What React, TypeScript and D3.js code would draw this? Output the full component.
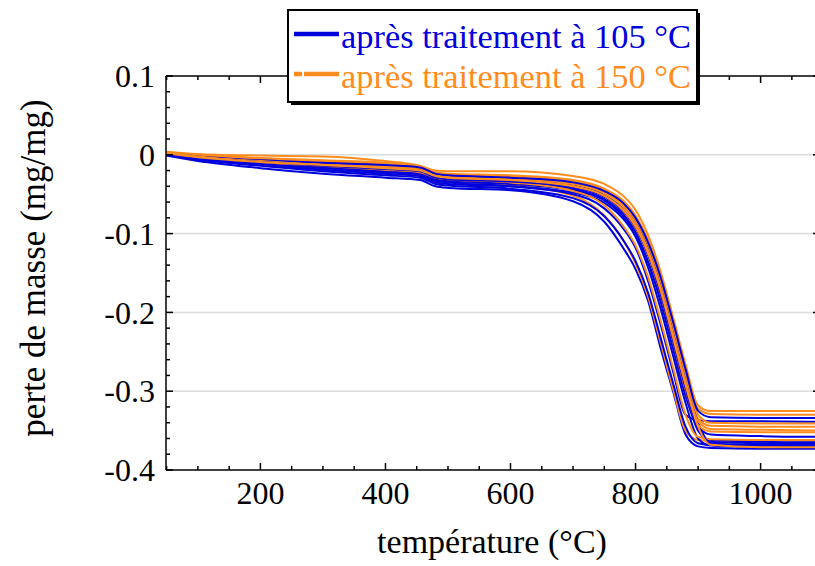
import React from "react";
import * as d3 from "d3";

const temps = [49, 100, 200, 300, 400, 455, 480, 500, 600, 700, 750, 780, 800, 820, 840, 860, 880, 900, 920, 1000, 1100];

const blue1 = [-0.001, -0.008, -0.017, -0.024, -0.029, -0.032, -0.040, -0.042, -0.045, -0.059, -0.085, -0.118, -0.145, -0.185, -0.245, -0.300, -0.355, -0.370, -0.372, -0.373, -0.373];
const blue2 = [0.000, -0.006, -0.014, -0.021, -0.026, -0.029, -0.037, -0.039, -0.043, -0.055, -0.078, -0.108, -0.135, -0.175, -0.232, -0.290, -0.345, -0.366, -0.368, -0.368, -0.368];
const blue3 = [0.001, -0.005, -0.012, -0.017, -0.022, -0.025, -0.033, -0.035, -0.040, -0.050, -0.068, -0.093, -0.118, -0.160, -0.215, -0.275, -0.330, -0.337, -0.338, -0.338, -0.339];
const blue4 = [0.002, -0.004, -0.010, -0.015, -0.019, -0.022, -0.030, -0.032, -0.035, -0.043, -0.056, -0.075, -0.097, -0.135, -0.183, -0.243, -0.303, -0.350, -0.362, -0.364, -0.365];
const blue5 = [0.002, -0.003, -0.008, -0.012, -0.016, -0.019, -0.027, -0.029, -0.031, -0.038, -0.050, -0.067, -0.087, -0.120, -0.167, -0.225, -0.287, -0.340, -0.366, -0.369, -0.370];
const blue6 = [0.001, -0.005, -0.011, -0.016, -0.021, -0.024, -0.032, -0.034, -0.037, -0.045, -0.058, -0.078, -0.100, -0.137, -0.186, -0.246, -0.306, -0.345, -0.355, -0.357, -0.358];
const blue7 = [0.002, -0.002, -0.007, -0.010, -0.013, -0.016, -0.024, -0.026, -0.029, -0.035, -0.046, -0.061, -0.080, -0.111, -0.155, -0.212, -0.272, -0.325, -0.333, -0.334, -0.334];
const blue8 = [0.000, -0.006, -0.013, -0.019, -0.024, -0.027, -0.035, -0.037, -0.040, -0.048, -0.061, -0.081, -0.104, -0.143, -0.195, -0.255, -0.315, -0.360, -0.369, -0.371, -0.372];
const blue9 = [0.001, -0.004, -0.009, -0.014, -0.018, -0.021, -0.029, -0.031, -0.034, -0.041, -0.053, -0.071, -0.092, -0.127, -0.176, -0.236, -0.296, -0.348, -0.364, -0.366, -0.367];

const orange1 = [0.003, -0.003, -0.010, -0.016, -0.021, -0.024, -0.031, -0.033, -0.038, -0.052, -0.077, -0.108, -0.138, -0.180, -0.238, -0.297, -0.350, -0.362, -0.363, -0.363, -0.363];
const orange2 = [0.004, 0.001, -0.001, -0.002, -0.008, -0.014, -0.020, -0.021, -0.021, -0.027, -0.037, -0.052, -0.070, -0.102, -0.148, -0.206, -0.266, -0.318, -0.325, -0.325, -0.325];
const orange3 = [0.003, 0.000, -0.004, -0.007, -0.010, -0.015, -0.022, -0.024, -0.026, -0.032, -0.043, -0.058, -0.077, -0.108, -0.153, -0.210, -0.270, -0.322, -0.329, -0.330, -0.330];
const orange4 = [0.003, -0.001, -0.006, -0.009, -0.013, -0.017, -0.024, -0.026, -0.028, -0.035, -0.047, -0.064, -0.084, -0.117, -0.163, -0.221, -0.282, -0.335, -0.344, -0.345, -0.345];
const orange5 = [0.002, -0.002, -0.007, -0.011, -0.015, -0.018, -0.025, -0.027, -0.030, -0.037, -0.049, -0.066, -0.087, -0.121, -0.168, -0.227, -0.288, -0.338, -0.348, -0.349, -0.350];
const orange6 = [0.003, -0.001, -0.005, -0.008, -0.011, -0.016, -0.023, -0.025, -0.027, -0.033, -0.044, -0.060, -0.080, -0.112, -0.158, -0.216, -0.277, -0.330, -0.340, -0.341, -0.341];
const orange7 = [0.002, -0.003, -0.008, -0.013, -0.017, -0.020, -0.027, -0.029, -0.032, -0.040, -0.053, -0.071, -0.093, -0.128, -0.177, -0.237, -0.298, -0.343, -0.351, -0.352, -0.352];
const orange8 = [0.003, -0.002, -0.009, -0.014, -0.019, -0.022, -0.029, -0.031, -0.035, -0.046, -0.064, -0.090, -0.115, -0.155, -0.210, -0.270, -0.330, -0.358, -0.361, -0.362, -0.362];
const orange9 = [0.002, -0.003, -0.009, -0.013, -0.017, -0.020, -0.027, -0.029, -0.032, -0.040, -0.052, -0.070, -0.091, -0.125, -0.172, -0.232, -0.292, -0.345, -0.368, -0.371, -0.371];

const blueSeries = [blue1, blue2, blue3, blue4, blue5, blue6, blue7, blue8, blue9];
const orangeSeries = [orange1, orange2, orange3, orange4, orange5, orange6, orange7, orange8, orange9];

const xTicks = [200, 400, 600, 800, 1000];
const yTicks = [0.1, 0, -0.1, -0.2, -0.3, -0.4];
const yTickLabels = ["0.1", "0", "-0.1", "-0.2", "-0.3", "-0.4"];
const legendLabels = ["après traitement à 105 °C", "après traitement à 150 °C"];
const xTitle = "température (°C)";
const yTitle = "perte de masse (mg/mg)";

const BLUE = "#0000dc";
const ORANGE = "#ff8c1e";
const serif = { fontFamily: "Liberation Serif" };

export default function App() {
  const left = 166, right = 820, top = 76, bottom = 470;
  const x = d3.scaleLinear().domain([49, 1095]).range([left, right]);
  const y = d3.scaleLinear().domain([-0.4, 0.1]).range([bottom, top]);
  const line = d3
    .line<number>()
    .x((_, i) => x(temps[i]))
    .y((v) => y(v))
    .curve(d3.curveMonotoneX);

  const xMinor = d3.range(50, 1100, 50).filter((t) => t % 200 !== 0);
  const yMinor = d3.range(-0.4, 0.1001, 0.02).filter((v) => Math.abs(Math.round(v * 10) - v * 10) > 0.01);

  const drawOrder: { vals: number[]; color: string }[] = [];
  for (let i = 0; i < 9; i++) {
    drawOrder.push({ vals: blueSeries[i], color: BLUE });
    drawOrder.push({ vals: orangeSeries[i], color: ORANGE });
  }

  return (
    <svg width={815} height={566} style={{ position: "absolute", left: 0, top: 0, background: "#fff" }}>
      <defs>
        <clipPath id="plotClip">
          <rect x={left} y={top} width={right - left} height={bottom - top} />
        </clipPath>
      </defs>
      {[0, -0.1, -0.2, -0.3].map((v) => (
        <line key={"g" + v} x1={left} x2={right} y1={y(v)} y2={y(v)} stroke="#dcdcdc" strokeWidth={1.5} />
      ))}
      <g clipPath="url(#plotClip)">
        {drawOrder.map((s, i) => (
          <path key={i} d={line(s.vals) || ""} fill="none" stroke={s.color} strokeWidth={2} />
        ))}
      </g>
      <g stroke="#000" strokeWidth={1.5}>
        <line x1={left} x2={right} y1={bottom} y2={bottom} />
        <line x1={left} x2={right} y1={top} y2={top} />
        <line x1={left} x2={left} y1={top} y2={bottom} />
        <line x1={right} x2={right} y1={top} y2={bottom} />
        {xTicks.map((t) => (
          <g key={"xt" + t}>
            <line x1={x(t)} x2={x(t)} y1={bottom} y2={bottom - 7} />
            <line x1={x(t)} x2={x(t)} y1={top} y2={top + 7} />
          </g>
        ))}
        {xMinor.map((t) => (
          <g key={"xm" + t}>
            <line x1={x(t)} x2={x(t)} y1={bottom} y2={bottom - 4} />
            <line x1={x(t)} x2={x(t)} y1={top} y2={top + 4} />
          </g>
        ))}
        {yTicks.map((v) => (
          <g key={"yt" + v}>
            <line x1={left} x2={left + 7} y1={y(v)} y2={y(v)} />
            <line x1={right} x2={right - 7} y1={y(v)} y2={y(v)} />
          </g>
        ))}
        {yMinor.map((v) => (
          <g key={"ym" + v.toFixed(3)}>
            <line x1={left} x2={left + 4} y1={y(v)} y2={y(v)} />
            <line x1={right} x2={right - 4} y1={y(v)} y2={y(v)} />
          </g>
        ))}
      </g>
      {xTicks.map((t) => (
        <text key={"xl" + t} x={x(t)} y={504} textAnchor="middle" fontSize={32} fill="#000" style={serif}>
          {t}
        </text>
      ))}
      {yTicks.map((v, i) => (
        <text key={"yl" + v} x={155} y={y(v)} dy="0.35em" textAnchor="end" fontSize={32} fill="#000" style={serif}>
          {yTickLabels[i]}
        </text>
      ))}
      <text x={492} y={553} textAnchor="middle" fontSize={34} fill="#000" style={serif}>
        {xTitle}
      </text>
      <text transform="translate(45,268) rotate(-90)" textAnchor="middle" fontSize={35} fill="#000" style={serif}>
        {yTitle}
      </text>
      <rect x={291} y={13} width={409} height={92} fill="#000" />
      <rect x={288} y={10} width={409} height={92} fill="#fff" stroke="#000" strokeWidth={2} />
      <line x1={294} x2={339} y1={34} y2={34} stroke={BLUE} strokeWidth={4.5} />
      <line x1={294} x2={339} y1={74} y2={74} stroke={ORANGE} strokeWidth={4.5} strokeDasharray="8 2 35" />
      <text x={341} y={48} fontSize={34.4} fill={BLUE} style={serif}>
        {legendLabels[0]}
      </text>
      <text x={341} y={88} fontSize={34.4} fill={ORANGE} style={serif}>
        {legendLabels[1]}
      </text>
    </svg>
  );
}
